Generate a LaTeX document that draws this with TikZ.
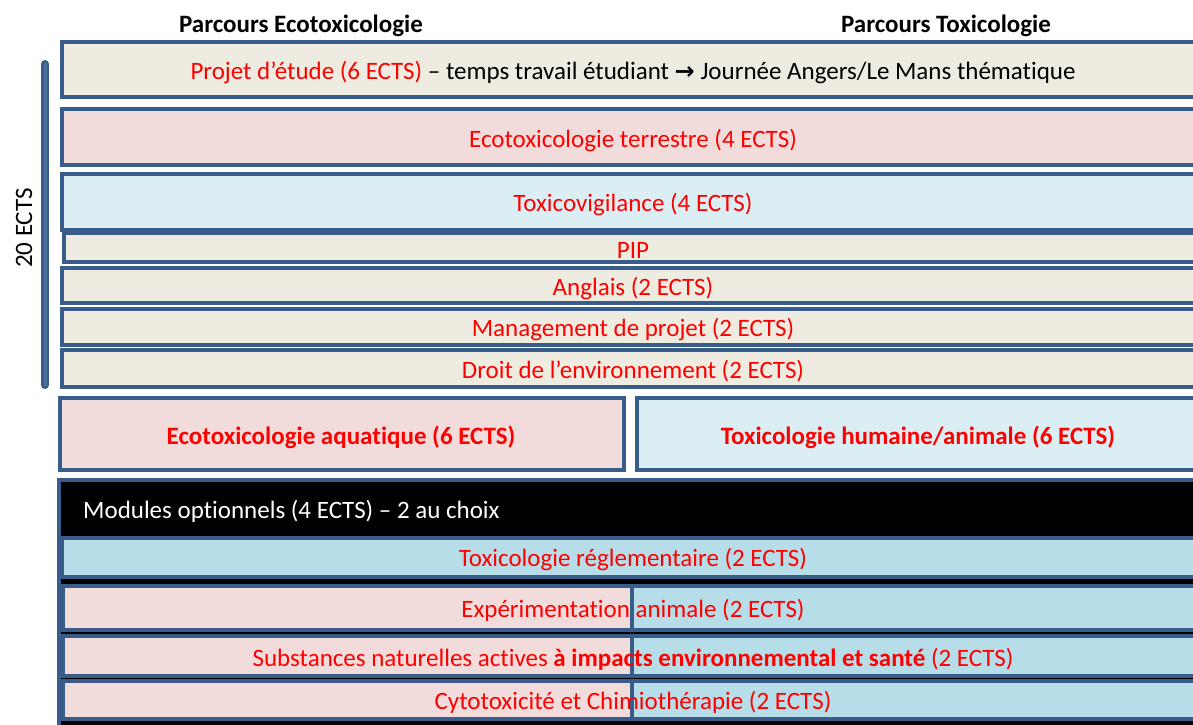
\documentclass[tikz,border=0pt]{standalone}
\usepackage{fontspec}
\setmainfont{Carlito}[Ligatures=NoCommon]
\newfontfamily\dejavu{DejaVu Sans}
\definecolor{boxblue}{RGB}{56,93,138}
\definecolor{barblue}{RGB}{79,114,160}
\definecolor{beigef}{RGB}{238,236,225}
\definecolor{pinkf}{RGB}{242,220,219}
\definecolor{lbluef}{RGB}{219,238,244}
\definecolor{mbluef}{RGB}{183,221,232}
\newcommand{\fs}{\fontsize{25}{29}\selectfont}
\begin{document}
\begin{tikzpicture}[x=1pt,y=-1pt,
  box/.style={draw=boxblue,line width=3.5pt},
  lbl/.style={text=red,font=\fs,inner sep=0pt},
  hdr/.style={text=black,font=\fs\bfseries,inner sep=0pt}]
\clip (0,0) rectangle (1193,724);
\fill[white] (0,0) rectangle (1193,724);
% headers
\node[hdr] (h1) at (301,26) {Parcours Ecotoxicologie};
\node[hdr] (h2) at (946,26) {Parcours Toxicologie};
% left bar
\draw[line width=8pt,boxblue,line cap=round] (45,64) -- (45,385);
\draw[line width=3pt,barblue,line cap=round] (45,64) -- (45,385);
\node[font=\fs,rotate=90,inner sep=0pt] (ects) at (24,228) {20 ECTS};
% common boxes
\draw[box,fill=beigef] (62,42) rectangle (1205,97);
\node[lbl] (t1) at (633,72) {Projet d’étude (6 ECTS) \textcolor{black}{– temps travail étudiant {\dejavu\bfseries\fontsize{24}{25}\selectfont →} Journée Angers/Le Mans thématique}};
\draw[box,fill=pinkf] (62,109) rectangle (1205,165);
\node[lbl] (t2) at (633,140) {Ecotoxicologie terrestre (4 ECTS)};
\draw[box,fill=lbluef] (62,174) rectangle (1205,230);
\node[lbl] (t3) at (633,204) {Toxicovigilance (4 ECTS)};
\draw[box,fill=beigef] (64,233) rectangle (1205,262);
\node[lbl] (t4) at (633,250) {PIP};
\draw[box,fill=beigef] (62,268) rectangle (1205,303);
\node[lbl] (t5) at (633,288) {Anglais (2 ECTS)};
\draw[box,fill=beigef] (62,309) rectangle (1205,345);
\node[lbl] (t6) at (633,329) {Management de projet (2 ECTS)};
\draw[box,fill=beigef] (62,350) rectangle (1205,387);
\node[lbl] (t7) at (633,371) {Droit de l’environnement (2 ECTS)};
% parcours boxes
\draw[box,fill=pinkf] (60,398) rectangle (624,470);
\node[lbl,font=\fs\bfseries] (t8) at (341,437) {Ecotoxicologie aquatique (6 ECTS)};
\draw[box,fill=lbluef] (637,398) rectangle (1205,470);
\node[lbl,font=\fs\bfseries] (t9) at (918,437) {Toxicologie humaine/animale (6 ECTS)};
% optional modules
\draw[box,fill=black] (59,480) rectangle (1205,745);
\node[text=white,font=\fs,inner sep=0pt,anchor=west] (t10) at (83,511) {Modules optionnels (4 ECTS) – 2 au choix};
\draw[box,fill=mbluef] (62,538) rectangle (1205,577);
\node[lbl] (t11) at (633,559) {Toxicologie réglementaire (2 ECTS)};
\draw[box,fill=pinkf] (63,586) rectangle (632,630);
\draw[box,fill=mbluef] (632,586) rectangle (1205,630);
\node[lbl] (t12) at (633,610) {Expérimentation animale (2 ECTS)};
\draw[box,fill=pinkf] (63,636) rectangle (632,676);
\draw[box,fill=mbluef] (632,636) rectangle (1205,676);
\node[lbl] (t13) at (633,659) {Substances naturelles actives \textbf{à impacts environnemental et santé} (2 ECTS)};
\draw[box,fill=pinkf] (63,681) rectangle (632,719);
\draw[box,fill=mbluef] (632,681) rectangle (1205,719);
\node[lbl] (t14) at (633,702) {Cytotoxicité et Chimiothérapie (2 ECTS)};
\end{tikzpicture}
\end{document}
